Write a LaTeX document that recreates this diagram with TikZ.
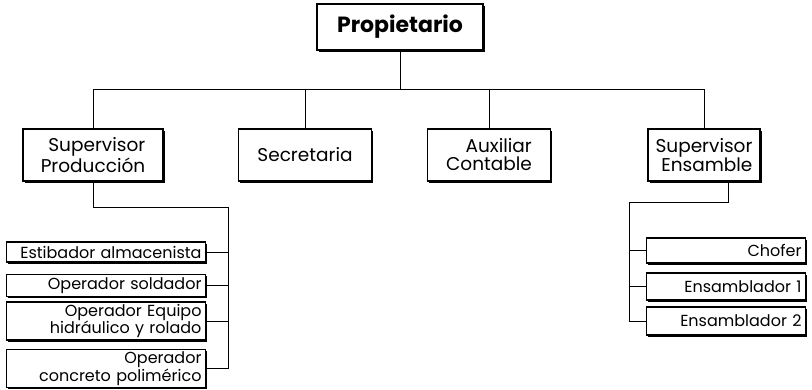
\documentclass[tikz,border=0pt]{standalone}
\usepackage{fontspec}
\setmainfont{Poppins}
\usetikzlibrary{positioning,shadows}

\tikzset{
	cargo/.style={draw=black, line width=1.1pt, fill=white, align=right, inner sep=2pt,
		drop shadow={shadow xshift=1.8pt, shadow yshift=-1.8pt, fill=black, opacity=1}},
	jefe/.style={cargo, font=\fontsize{22}{24}\selectfont\bfseries},
	mando/.style={cargo, font=\fontsize{18.5}{18}\selectfont},
	puesto/.style={cargo, font=\fontsize{16}{14}\selectfont, minimum height=22pt},
	linea/.style={draw=black, line width=0.9pt}
}

\begin{document}
\begin{tikzpicture}[x=1pt, y=-1pt]
	\useasboundingbox (0,0) rectangle (812,389);

	\node[jefe, minimum width=166pt, minimum height=46pt] (prop) at (400,27) {Propietario};

	\node[mando, minimum width=140pt, minimum height=52pt] (supprod) at (93,155) {Supervisor\\Producción};
	\node[mando, minimum width=133pt, minimum height=52pt] (secr) at (305,155) {Secretaria};
	\node[mando, minimum width=123pt, minimum height=52pt] (aux) at (489,155) {Auxiliar\\Contable};
	\node[mando, minimum width=112pt, minimum height=52pt] (supens) at (704,155) {Supervisor\\Ensamble};

	\node[puesto, minimum width=199pt, minimum height=20pt, text width=191pt] (estib) at (106,252) {Estibador almacenista};
	\node[puesto, minimum width=199pt, text width=191pt] (sold) at (106,285.5) {Operador soldador};
	\node[puesto, minimum width=199pt, minimum height=36pt, text width=191pt] (equip) at (106,321) {Operador Equipo\\hidráulico y rolado};
	\node[puesto, minimum width=199pt, minimum height=37pt, text width=191pt] (conc) at (106,368.5) {Operador\\concreto polimérico};

	\node[puesto, minimum width=159pt, minimum height=25pt, text width=151pt] (chofer) at (726,250.5) {Chofer};
	\node[puesto, minimum width=159pt, minimum height=27pt, text width=151pt] (ens1) at (726,286.5) {Ensamblador 1};
	\node[puesto, minimum width=159pt, minimum height=28pt, text width=151pt] (ens2) at (726,321) {Ensamblador 2};

	% linea principal
	\coordinate (bus) at (0,89);
	\draw[linea] (prop.south) -- (prop.south |- bus);
	\draw[linea] (supprod.north |- bus) -- (supens.north |- bus);
	\foreach \n in {supprod,secr,aux,supens}
		\draw[linea] (\n.north) -- (\n.north |- bus);

	% produccion
	\coordinate (lbus) at (228,207);
	\draw[linea] (supprod.south) |- (lbus) -- (lbus |- conc.east);
	\foreach \n in {estib,sold,equip,conc}
		\draw[linea] (\n.east) -- (\n.east -| lbus);

	% ensamble
	\coordinate (rbus) at (629,202);
	\draw[linea] ([xshift=24pt]supens.south) |- (rbus) -- (rbus |- ens2.west);
	\foreach \n in {chofer,ens1,ens2}
		\draw[linea] (\n.west) -- (\n.west -| rbus);
\end{tikzpicture}
\end{document}
